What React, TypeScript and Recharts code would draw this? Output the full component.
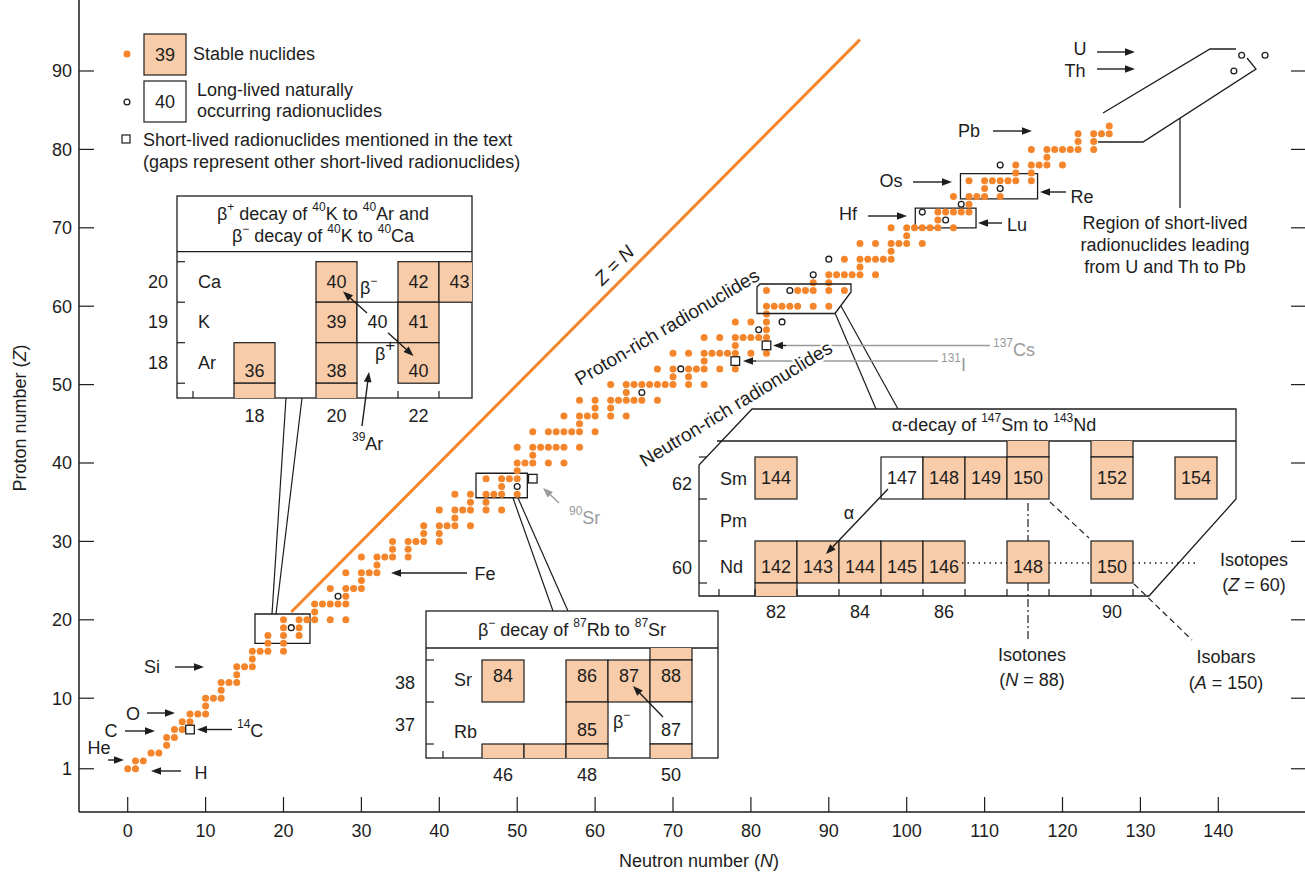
import React from "react";
import { ScatterChart, Scatter, XAxis, YAxis, ReferenceLine, ReferenceArea } from "recharts";

const ORANGE = "#F5852A";
const PEACH = "#F9CCA9";
const INK = "#1d1d1d";
const GRAY = "#9a9a9a";
const FONT = "'Liberation Sans', Arial, Helvetica, sans-serif";

// each row: Z, then the neutron numbers of its stable nuclides
const stableRows: number[][] = [
  [1, 0, 1], [2, 1, 2], [3, 3, 4], [4, 5], [5, 5, 6], [6, 6, 7], [7, 7, 8],
  [8, 8, 9, 10], [9, 10], [10, 10, 11, 12], [11, 12], [12, 12, 13, 14], [13, 14],
  [14, 14, 15, 16], [15, 16], [16, 16, 17, 18, 20], [17, 18, 20], [18, 18, 20, 22],
  [19, 20, 22], [20, 20, 22, 23, 24, 26, 28], [21, 24], [22, 24, 25, 26, 27, 28],
  [23, 28], [24, 26, 28, 29, 30], [25, 30], [26, 28, 30, 31, 32], [27, 32],
  [28, 30, 32, 33, 34, 36], [29, 34, 36], [30, 34, 36, 37, 38, 40], [31, 38, 40],
  [32, 38, 40, 41, 42, 44], [33, 42], [34, 40, 42, 43, 44, 46, 48], [35, 44, 46],
  [36, 42, 44, 46, 47, 48, 50], [37, 48], [38, 46, 48, 49, 50], [39, 50],
  [40, 50, 51, 52, 54, 56], [41, 52], [42, 50, 52, 53, 54, 55, 56, 58],
  [44, 52, 54, 55, 56, 57, 58, 60], [45, 58], [46, 56, 58, 59, 60, 62, 64], [47, 60, 62],
  [48, 58, 60, 62, 63, 64, 65, 66, 68], [49, 64], [50, 62, 64, 65, 66, 67, 68, 69, 70, 72, 74],
  [51, 70, 72], [52, 68, 70, 72, 73, 74, 76, 78], [53, 74],
  [54, 70, 72, 74, 75, 76, 77, 78, 80, 82], [55, 78], [56, 74, 76, 78, 79, 80, 81, 82],
  [57, 82], [58, 78, 80, 82], [59, 82], [60, 82, 83, 84, 85, 86, 88, 90],
  [62, 82, 86, 87, 88, 90, 92], [63, 88, 90], [64, 90, 91, 92, 93, 94, 96], [65, 94],
  [66, 92, 94, 95, 96, 97, 98], [67, 98], [68, 94, 96, 98, 99, 100, 102], [69, 100],
  [70, 98, 100, 101, 102, 103, 104, 106], [71, 104], [72, 104, 105, 106, 107, 108],
  [73, 108], [74, 106, 108, 109, 110, 112], [75, 110], [76, 108, 110, 111, 112, 113, 114, 116],
  [77, 114, 116], [78, 114, 116, 117, 118, 120], [79, 118], [80, 116, 118, 119, 120, 121, 122, 124],
  [81, 122, 124], [82, 122, 124, 125, 126], [83, 126],
];

// [N, Z] long-lived naturally occurring radionuclides (open circles)
const longLived: number[][] = [
  [21, 19], [27, 23], [50, 37], [66, 49], [71, 52], [81, 57], [84, 58], [85, 62],
  [88, 64], [90, 66], [102, 72], [105, 71], [107, 73], [112, 75], [112, 78],
  [142, 90], [143, 92], [146, 92],
];

// [N, Z] short-lived radionuclides named in the text: 14C, 90Sr, 131I, 137Cs
const shortLived: number[][] = [[8, 6], [52, 38], [78, 53], [82, 55]];

const xTicks = [0, 10, 20, 30, 40, 50, 60, 70, 80, 90, 100, 110, 120, 130, 140];
const yTicks = [1, 10, 20, 30, 40, 50, 60, 70, 80, 90];

// inset cells: [Z, N, mass number label, stable?]
type Cell = [number, number, string, boolean];
const kArCells: Cell[] = [
  [20, 20, "40", true], [20, 22, "42", true], [20, 23, "43", true],
  [19, 20, "39", true], [19, 21, "40", false], [19, 22, "41", true],
  [18, 18, "36", true], [18, 20, "38", true], [18, 22, "40", true],
  [17, 18, "", true], [17, 20, "", true],
];
const kArRows: [number, string][] = [[20, "Ca"], [19, "K"], [18, "Ar"]];
const kArCols = [18, 20, 22];

const rbSrCells: Cell[] = [
  [39, 50, "", true],
  [38, 46, "84", true], [38, 48, "86", true], [38, 49, "87", true], [38, 50, "88", true],
  [37, 48, "85", true], [37, 50, "87", false],
  [36, 46, "", true], [36, 47, "", true], [36, 48, "", true], [36, 50, "", true],
];
const rbSrRows: [number, string][] = [[38, "Sr"], [37, "Rb"]];
const rbSrCols = [46, 48, 50];

const smNdCells: Cell[] = [
  [63, 88, "", true], [63, 90, "", true],
  [62, 82, "144", true], [62, 85, "147", false], [62, 86, "148", true], [62, 87, "149", true],
  [62, 88, "150", true], [62, 90, "152", true], [62, 92, "154", true],
  [60, 82, "142", true], [60, 83, "143", true], [60, 84, "144", true], [60, 85, "145", true],
  [60, 86, "146", true], [60, 88, "148", true], [60, 90, "150", true],
  [59, 82, "", true],
];
const smNdRows: [number, string][] = [[62, "Sm"], [61, "Pm"], [60, "Nd"]];
const smNdCols = [82, 84, 86, 90];

// pixel calibration of the plot
const X0 = 127.7;
const SX = 7.79;
const Y0 = 776.6;
const SY = 7.84;
const LEFT = 79;
const RIGHT = 1306;
const BOTTOM = 812;
const TOP = 0;
const nDomain = [(LEFT - X0) / SX, (RIGHT - X0) / SX];
const zDomain = [(Y0 - BOTTOM) / SY, (Y0 - TOP) / SY];

const stable = stableRows.flatMap(([z, ...ns]) => ns.map((n) => ({ n, z })));
const circles = longLived.map(([n, z]) => ({ n, z }));
const squares = shortLived.map(([n, z]) => ({ n, z }));

const dotShape = (p: any) => <circle cx={p.cx} cy={p.cy} r={3.5} fill={ORANGE} />;
const circleShape = (p: any) => (
  <circle cx={p.cx} cy={p.cy} r={2.9} fill="#fff" stroke={INK} strokeWidth={1.3} />
);
const squareShape = (p: any) => (
  <rect x={p.cx - 4.3} y={p.cy - 4.3} width={8.6} height={8.6} fill="#fff" stroke={INK} strokeWidth={1.3} />
);
const noLabel = () => <g />;

function T({ x, y, children, size = 18, anchor = "middle", fill = INK, italic = false }: any) {
  return (
    <text x={x} y={y} fontSize={size} textAnchor={anchor} dominantBaseline="central" fill={fill}
      fontFamily={FONT} fontStyle={italic ? "italic" : undefined}>
      {children}
    </text>
  );
}

function Rich({ parts, shift = 7, supSize = 12 }: { parts: [string, boolean][]; shift?: number; supSize?: number }) {
  let up = false;
  return (
    <>
      {parts.map(([s, isSup], i) => {
        let dy = 0;
        if (isSup && !up) { dy = -shift; up = true; } else if (!isSup && up) { dy = shift; up = false; }
        return <tspan key={i} dy={dy} fontSize={isSup ? supSize : undefined}>{s}</tspan>;
      })}
    </>
  );
}

function Arrow({ x1, y1, x2, y2, color = INK, w = 1.4, head = 10 }: any) {
  const a = Math.atan2(y2 - y1, x2 - x1);
  const hw = head * 0.38;
  const bx = x2 - head * Math.cos(a);
  const by = y2 - head * Math.sin(a);
  const pts = [
    [x2, y2],
    [bx - hw * Math.sin(a), by + hw * Math.cos(a)],
    [bx + hw * Math.sin(a), by - hw * Math.cos(a)],
  ].map((p) => p.join(",")).join(" ");
  return (
    <g>
      <line x1={x1} y1={y1} x2={bx} y2={by} stroke={color} strokeWidth={w} />
      <polygon points={pts} fill={color} />
    </g>
  );
}

type Grid = { n0: number; x0: number; w: number; z0: number; y0: number; h: number; dy: Record<number, number> };

function Cells({ cells, g }: { cells: Cell[]; g: Grid }) {
  return (
    <>
      {cells.map(([z, n, label, filled], i) => {
        const x = g.x0 + (n - g.n0) * g.w;
        const y = g.y0 + (g.z0 - z) * g.h;
        return (
          <g key={i}>
            <rect x={x} y={y} width={g.w} height={g.h} fill={filled ? PEACH : "#fff"} stroke={INK} strokeWidth={1.2} />
            {label && <T x={x + g.w / 2} y={y + g.h / 2 + (g.dy[z] || 0)}>{label}</T>}
          </g>
        );
      })}
    </>
  );
}

const gKAr: Grid = { n0: 18, x0: 234, w: 41, z0: 20, y0: 261.7, h: 40.5, dy: { 18: 8 } };
const gRbSr: Grid = { n0: 46, x0: 482, w: 42, z0: 38, y0: 660, h: 42, dy: { 38: -5, 37: 7 } };
const gSmNd: Grid = { n0: 82, x0: 755, w: 42, z0: 62, y0: 457, h: 42, dy: { 60: 5 } };

function Overlay() {
  const colX = (g: Grid, n: number) => g.x0 + (n - g.n0) * g.w + g.w / 2;
  const rowY = (g: Grid, z: number) => g.y0 + (g.z0 - z) * g.h + g.h / 2;
  return (
    <svg width={1305} height={872} style={{ position: "absolute", left: 0, top: 0, pointerEvents: "none" }}>
      <defs>
        <clipPath id="c1"><rect x={177} y={251.7} width={295} height={146.3} /></clipPath>
        <clipPath id="c2"><rect x={426} y={648} width={292} height={110} /></clipPath>
        <clipPath id="c3"><polygon points="717,441 1236,441 1236,499 1149,596 699,596 699,465" /></clipPath>
      </defs>

      {/* legend */}
      <circle cx={127} cy={54} r={3.5} fill={ORANGE} />
      <rect x={144} y={34} width={42} height={41} fill={PEACH} stroke={INK} strokeWidth={1.2} />
      <T x={165} y={55}>39</T>
      <T x={193} y={54} anchor="start">Stable nuclides</T>
      <circle cx={127} cy={102} r={2.9} fill="#fff" stroke={INK} strokeWidth={1.3} />
      <rect x={144} y={81} width={42} height={41} fill="#fff" stroke={INK} strokeWidth={1.2} />
      <T x={165} y={102}>40</T>
      <T x={197} y={90} anchor="start">Long-lived naturally</T>
      <T x={197} y={111} anchor="start">occurring radionuclides</T>
      <rect x={122} y={135} width={8} height={8} fill="#fff" stroke={INK} strokeWidth={1.2} />
      <T x={143} y={140} anchor="start">Short-lived radionuclides mentioned in the text</T>
      <T x={143} y={162} anchor="start">(gaps represent other short-lived radionuclides)</T>

      {/* element labels */}
      <T x={152} y={667}>Si</T><Arrow x1={175} y1={667} x2={204} y2={667} />
      <T x={133} y={714}>O</T><Arrow x1={147} y1={713} x2={175} y2={713} />
      <T x={111} y={731}>C</T><Arrow x1={125} y1={731} x2={155} y2={731} />
      <T x={99} y={748}>He</T><Arrow x1={108} y1={760} x2={124} y2={760} />
      <T x={201} y={773}>H</T><Arrow x1={181} y1={771} x2={151} y2={771} />
      <T x={237} y={731} anchor="start"><Rich parts={[["14", true], ["C", false]]} /></T>
      <Arrow x1={232} y1={729.5} x2={197} y2={729.5} />
      <T x={485} y={574}>Fe</T><Arrow x1={467} y1={573} x2={391} y2={573} />
      <T x={969} y={131}>Pb</T><Arrow x1={993} y1={131} x2={1032} y2={131} />
      <T x={891} y={181}>Os</T><Arrow x1={913} y1={182} x2={952} y2={182} />
      <T x={1082} y={197}>Re</T><Arrow x1={1066} y1={192} x2={1040} y2={192} />
      <T x={848} y={214}>Hf</T><Arrow x1={868} y1={216} x2={907} y2={216} />
      <T x={1017} y={225}>Lu</T><Arrow x1={1002} y1={223} x2={978} y2={223} />
      <T x={1080} y={49}>U</T><Arrow x1={1097} y1={52} x2={1135} y2={52} />
      <T x={1075} y={71}>Th</T><Arrow x1={1097} y1={69} x2={1135} y2={69} />

      {/* U/Th region */}
      <polyline points="1103,113 1210,49 1236,49" fill="none" stroke={INK} strokeWidth={1.3} />
      <polyline points="1247,58 1256,69 1143,142 1098,142" fill="none" stroke={INK} strokeWidth={1.3} />
      <line x1={1180} y1={118} x2={1180} y2={208} stroke={INK} strokeWidth={1.3} />
      <T x={1165} y={223}>Region of short-lived</T>
      <T x={1165} y={245}>radionuclides leading</T>
      <T x={1165} y={267}>from U and Th to Pb</T>

      {/* Sm/Nd outline in the main chart */}
      <polygon points="760,284 851,284 851,292 835,313.5 757,313.5 757,287" fill="none" stroke={INK} strokeWidth={1.3} />
      <line x1={835} y1={313} x2={876} y2={409} stroke={INK} strokeWidth={1.2} />
      <line x1={841} y1={306} x2={898} y2={409} stroke={INK} strokeWidth={1.2} />

      {/* connectors to the other insets */}
      <line x1={272} y1={614} x2={286} y2={398} stroke={INK} strokeWidth={1.2} />
      <line x1={276} y1={614} x2={302} y2={398} stroke={INK} strokeWidth={1.2} />
      <line x1={513} y1={498} x2={553} y2={611} stroke={INK} strokeWidth={1.2} />
      <line x1={518} y1={498} x2={568} y2={611} stroke={INK} strokeWidth={1.2} />

      {/* Cs, I, Sr callouts */}
      <line x1={785} y1={345.5} x2={990} y2={345.5} stroke={GRAY} strokeWidth={1.3} />
      <Arrow x1={786} y1={345.5} x2={773} y2={345.5} />
      <T x={993} y={350} anchor="start" fill={GRAY}><Rich parts={[["137", true], ["Cs", false]]} /></T>
      <line x1={755} y1={361} x2={938} y2={361} stroke={GRAY} strokeWidth={1.3} />
      <Arrow x1={756} y1={361} x2={743} y2={361} />
      <T x={941} y={365} anchor="start" fill={GRAY}><Rich parts={[["131", true], ["I", false]]} /></T>
      <Arrow x1={559} y1={503} x2={543} y2={488} color={GRAY} />
      <T x={569} y={518} anchor="start" fill={GRAY}><Rich parts={[["90", true], ["Sr", false]]} /></T>

      {/* rotated labels */}
      <text transform="translate(614,265) rotate(-45)" fontSize={19} textAnchor="middle" dominantBaseline="central" fill={INK} fontFamily={FONT}>
        <tspan fontStyle="italic">Z</tspan> = <tspan fontStyle="italic">N</tspan>
      </text>
      <text transform="translate(667,327) rotate(-30.5)" fontSize={19} textAnchor="middle" dominantBaseline="central" fill={INK} fontFamily={FONT}>
        Proton-rich radionuclides
      </text>
      <text transform="translate(736,404) rotate(-31.5)" fontSize={19} textAnchor="middle" dominantBaseline="central" fill={INK} fontFamily={FONT}
        stroke="#fff" strokeWidth={5} paintOrder="stroke" strokeLinejoin="round">
        Neutron-rich radionuclides
      </text>

      {/* inset: 40K */}
      <rect x={177} y={196} width={295} height={202} fill="#fff" stroke={INK} strokeWidth={1.3} />
      <line x1={177} y1={251.7} x2={472} y2={251.7} stroke={INK} strokeWidth={1.3} />
      <T x={323} y={214}><Rich parts={[["β", false], ["+", true], [" decay of ", false], ["40", true], ["K to ", false], ["40", true], ["Ar and", false]]} /></T>
      <T x={323} y={236}><Rich parts={[["β", false], ["−", true], [" decay of ", false], ["40", true], ["K to ", false], ["40", true], ["Ca", false]]} /></T>
      <g clipPath="url(#c1)"><Cells cells={kArCells} g={gKAr} /></g>
      {[261.7, 302.2, 342.7, 383.2].map((y) => <line key={y} x1={177} y1={y} x2={185} y2={y} stroke={INK} strokeWidth={1.2} />)}
      {[193, 398, 439].map((x) => <line key={x} x1={x} y1={398} x2={x} y2={391} stroke={INK} strokeWidth={1.2} />)}
      {kArRows.map(([z, s]) => (
        <g key={z}>
          <T x={198} y={rowY(gKAr, z)} anchor="start">{s}</T>
          <T x={168} y={rowY(gKAr, z)} anchor="end">{String(z)}</T>
        </g>
      ))}
      {kArCols.map((n) => <T key={n} x={colX(gKAr, n)} y={416}>{String(n)}</T>)}
      <Arrow x1={367} y1={313} x2={343} y2={291.5} />
      <Arrow x1={388} y1={332.7} x2={413.5} y2={356} />
      <T x={360} y={288} anchor="start"><Rich parts={[["β", false], ["−", true]]} /></T>
      <T x={375} y={354} anchor="start"><Rich parts={[["β", false], ["+", true]]} shift={9} supSize={17} /></T>
      <Arrow x1={362} y1={426} x2={369} y2={372} />
      <T x={352} y={444} anchor="start"><Rich parts={[["39", true], ["Ar", false]]} /></T>

      {/* inset: 87Rb */}
      <rect x={426} y={611} width={292} height={147} fill="#fff" stroke={INK} strokeWidth={1.3} />
      <line x1={426} y1={648} x2={718} y2={648} stroke={INK} strokeWidth={1.3} />
      <T x={572} y={630}><Rich parts={[["β", false], ["−", true], [" decay of ", false], ["87", true], ["Rb to ", false], ["87", true], ["Sr", false]]} /></T>
      <g clipPath="url(#c2)"><Cells cells={rbSrCells} g={gRbSr} /></g>
      {[660, 702, 744].map((y) => <line key={y} x1={426} y1={y} x2={434} y2={y} stroke={INK} strokeWidth={1.2} />)}
      <line x1={443} y1={758} x2={443} y2={751} stroke={INK} strokeWidth={1.2} />
      {rbSrRows.map(([z, s]) => (
        <g key={z}>
          <T x={454} y={rowY(gRbSr, z) + (z === 38 ? -1 : 9)} anchor="start">{s}</T>
          <T x={415} y={rowY(gRbSr, z) + 2} anchor="end">{String(z)}</T>
        </g>
      ))}
      {rbSrCols.map((n) => <T key={n} x={colX(gRbSr, n)} y={775}>{String(n)}</T>)}
      <Arrow x1={663} y1={717} x2={633} y2={686} />
      <T x={613} y={722} anchor="start"><Rich parts={[["β", false], ["−", true]]} /></T>

      {/* inset: 147Sm */}
      <polygon points="752,409 1236,409 1236,499 1149,596 699,596 699,465" fill="#fff" stroke={INK} strokeWidth={1.3} />
      <line x1={717} y1={441} x2={1236} y2={441} stroke={INK} strokeWidth={1.3} />
      <T x={994} y={425}><Rich parts={[["α-decay of ", false], ["147", true], ["Sm to ", false], ["143", true], ["Nd", false]]} /></T>
      <g clipPath="url(#c3)"><Cells cells={smNdCells} g={gSmNd} /></g>
      {[457, 499, 541, 583].map((y) => <line key={y} x1={699} y1={y} x2={707} y2={y} stroke={INK} strokeWidth={1.2} />)}
      {[719, 755, 797, 839, 881, 923, 965, 1007, 1049, 1091, 1133].map((x) => (
        <line key={x} x1={x} y1={596} x2={x} y2={589} stroke={INK} strokeWidth={1.2} />
      ))}
      {smNdRows.map(([z, s]) => (
        <g key={z}>
          <T x={720} y={rowY(gSmNd, z) + (z === 60 ? 5 : 1)} anchor="start">{s}</T>
          {z !== 61 && <T x={692} y={rowY(gSmNd, z) + 6} anchor="end">{String(z)}</T>}
        </g>
      ))}
      {smNdCols.map((n) => <T key={n} x={colX(gSmNd, n)} y={612}>{String(n)}</T>)}
      <Arrow x1={888} y1={489} x2={826} y2={554} />
      <T x={849} y={513}>α</T>
      {[[962, 1007], [1049, 1091], [1133, 1198]].map(([a, b]) => (
        <line key={a} x1={a} y1={563} x2={b} y2={563} stroke={INK} strokeWidth={1.3} strokeDasharray="1.5 4" />
      ))}
      <line x1={1028} y1={503} x2={1028} y2={541} stroke={INK} strokeWidth={1.2} strokeDasharray="8 3 2 3" />
      <line x1={1028} y1={583} x2={1028} y2={640} stroke={INK} strokeWidth={1.2} strokeDasharray="8 3 2 3" />
      <line x1={1050} y1={502} x2={1089} y2={538} stroke={INK} strokeWidth={1.2} strokeDasharray="6 4" />
      <line x1={1134} y1={584} x2={1192} y2={640} stroke={INK} strokeWidth={1.2} strokeDasharray="6 4" />
      <T x={1254} y={560}>Isotopes</T>
      <T x={1254} y={585}>(<tspan fontStyle="italic">Z</tspan> = 60)</T>
      <T x={1032} y={655}>Isotones</T>
      <T x={1032} y={680}>(<tspan fontStyle="italic">N</tspan> = 88)</T>
      <T x={1226} y={657}>Isobars</T>
      <T x={1226} y={683}>(<tspan fontStyle="italic">A</tspan> = 150)</T>

      {/* axis titles */}
      <text transform="translate(20,418) rotate(-90)" fontSize={18} textAnchor="middle" dominantBaseline="central" fill={INK} fontFamily={FONT}>
        Proton number (<tspan fontStyle="italic">Z</tspan>)
      </text>
      <T x={699} y={861}>Neutron number (<tspan fontStyle="italic">N</tspan>)</T>
    </svg>
  );
}

export default function App() {
  const axisLine = { stroke: INK, strokeWidth: 1.5 };
  const tickLine = { stroke: INK, strokeWidth: 1.2 };
  const tick = { fill: INK, fontSize: 18, fontFamily: FONT };
  return (
    <div style={{ position: "absolute", left: 0, top: 0, width: 1305, height: 872, overflow: "hidden", background: "#fff" }}>
      <ScatterChart width={RIGHT + 1} height={872} margin={{ top: TOP, right: 0, bottom: 872 - BOTTOM - 1, left: LEFT - 1 }}>
        <XAxis type="number" dataKey="n" domain={nDomain} ticks={xTicks} allowDataOverflow height={1}
          interval={0} tickSize={-15} tickMargin={27} axisLine={axisLine} tickLine={tickLine} tick={tick} />
        <YAxis type="number" dataKey="z" domain={zDomain} ticks={yTicks} allowDataOverflow width={1}
          interval={0} tickSize={-15} tickMargin={22} axisLine={axisLine} tickLine={tickLine} tick={tick} />
        <YAxis yAxisId="mirror" orientation="right" type="number" dataKey="z" domain={zDomain} ticks={yTicks} allowDataOverflow
          width={1} interval={0} tickSize={-15} axisLine={axisLine} tickLine={tickLine} tick={noLabel} />
        <ReferenceLine segment={[{ x: 21, y: 21 }, { x: 94, y: 94 }]} stroke={ORANGE} strokeWidth={3} ifOverflow="visible" />
        <ReferenceArea x1={16.34} x2={23.4} y1={17.0} y2={20.74} fill="none" stroke={INK} strokeWidth={1.3} ifOverflow="visible" />
        <ReferenceArea x1={44.71} x2={51.3} y1={35.57} y2={38.69} fill="none" stroke={INK} strokeWidth={1.3} ifOverflow="visible" />
        <ReferenceArea x1={101.1} x2={108.9} y1={70.0} y2={72.5} fill="none" stroke={INK} strokeWidth={1.3} ifOverflow="visible" />
        <ReferenceArea x1={106.9} x2={116.8} y1={73.7} y2={76.9} fill="none" stroke={INK} strokeWidth={1.3} ifOverflow="visible" />
        <Scatter data={stable} shape={dotShape} isAnimationActive={false} />
        <Scatter data={circles} yAxisId="mirror" shape={circleShape} isAnimationActive={false} />
        <Scatter data={squares} shape={squareShape} isAnimationActive={false} />
      </ScatterChart>
      <Overlay />
    </div>
  );
}
